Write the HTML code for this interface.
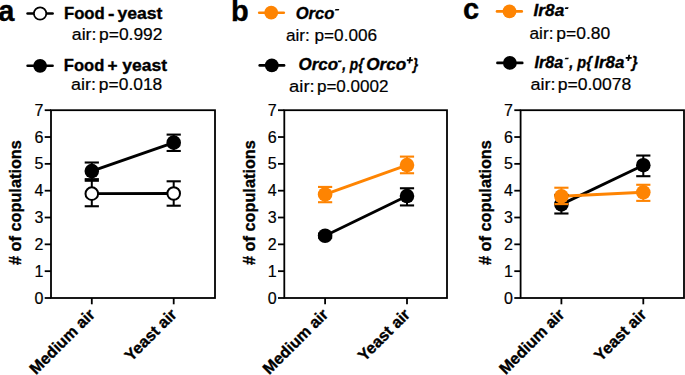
<!DOCTYPE html>
<html><head><meta charset="utf-8"><style>
html,body{margin:0;padding:0;background:#fff;}
svg{display:block}
text{font-family:"Liberation Sans",sans-serif;fill:#000;stroke:#000;stroke-width:0.35px}
.tk{font-size:16px;stroke-width:0.2px}
.xl{font-size:16px;font-weight:bold}
.yt{font-size:16px;font-weight:bold}
.pl{font-size:29px;font-weight:bold}
</style></head>
<body><svg width="685" height="375" viewBox="0 0 685 375">
<rect width="685" height="375" fill="#fff"/>
<rect x="51.0" y="110.2" width="164.0" height="187.8" fill="none" stroke="#000" stroke-width="1.8"/>
<line x1="44.7" y1="298.00" x2="51.0" y2="298.00" stroke="#000" stroke-width="1.8"/>
<text x="43.4" y="303.60" text-anchor="end" class="tk">0</text>
<line x1="44.7" y1="271.17" x2="51.0" y2="271.17" stroke="#000" stroke-width="1.8"/>
<text x="43.4" y="276.77" text-anchor="end" class="tk">1</text>
<line x1="44.7" y1="244.34" x2="51.0" y2="244.34" stroke="#000" stroke-width="1.8"/>
<text x="43.4" y="249.94" text-anchor="end" class="tk">2</text>
<line x1="44.7" y1="217.51" x2="51.0" y2="217.51" stroke="#000" stroke-width="1.8"/>
<text x="43.4" y="223.11" text-anchor="end" class="tk">3</text>
<line x1="44.7" y1="190.69" x2="51.0" y2="190.69" stroke="#000" stroke-width="1.8"/>
<text x="43.4" y="196.29" text-anchor="end" class="tk">4</text>
<line x1="44.7" y1="163.86" x2="51.0" y2="163.86" stroke="#000" stroke-width="1.8"/>
<text x="43.4" y="169.46" text-anchor="end" class="tk">5</text>
<line x1="44.7" y1="137.03" x2="51.0" y2="137.03" stroke="#000" stroke-width="1.8"/>
<text x="43.4" y="142.63" text-anchor="end" class="tk">6</text>
<line x1="44.7" y1="110.20" x2="51.0" y2="110.20" stroke="#000" stroke-width="1.8"/>
<text x="43.4" y="115.80" text-anchor="end" class="tk">7</text>
<line x1="91.80" y1="298.0" x2="91.80" y2="304.3" stroke="#000" stroke-width="1.8"/>
<line x1="173.70" y1="298.0" x2="173.70" y2="304.3" stroke="#000" stroke-width="1.8"/>
<text transform="translate(95.80,315.50) rotate(-45)" text-anchor="end" class="xl">Medium air</text>
<text transform="translate(177.70,315.50) rotate(-45)" text-anchor="end" class="xl">Yeast air</text>
<text transform="translate(21.20,202.60) rotate(-90)" text-anchor="middle" class="yt" textLength="125.0" lengthAdjust="spacingAndGlyphs"># of copulations</text>
<line x1="91.80" y1="193.64" x2="173.70" y2="193.50" stroke="#000" stroke-width="2.9"/>
<line x1="91.80" y1="171.10" x2="173.70" y2="142.66" stroke="#000" stroke-width="2.9"/>
<line x1="91.80" y1="206.25" x2="91.80" y2="180.76" stroke="#000" stroke-width="2"/>
<line x1="84.70" y1="206.25" x2="98.90" y2="206.25" stroke="#000" stroke-width="2.1"/>
<line x1="84.70" y1="180.76" x2="98.90" y2="180.76" stroke="#000" stroke-width="2.1"/>
<circle cx="91.80" cy="193.64" r="6.3" fill="#fff" stroke="#000" stroke-width="2.0"/>
<line x1="173.70" y1="205.71" x2="173.70" y2="181.30" stroke="#000" stroke-width="2"/>
<line x1="166.60" y1="205.71" x2="180.80" y2="205.71" stroke="#000" stroke-width="2.1"/>
<line x1="166.60" y1="181.30" x2="180.80" y2="181.30" stroke="#000" stroke-width="2.1"/>
<circle cx="173.70" cy="193.50" r="6.3" fill="#fff" stroke="#000" stroke-width="2.0"/>
<line x1="91.80" y1="179.15" x2="91.80" y2="162.52" stroke="#000" stroke-width="2"/>
<line x1="84.70" y1="179.15" x2="98.90" y2="179.15" stroke="#000" stroke-width="2.1"/>
<line x1="84.70" y1="162.52" x2="98.90" y2="162.52" stroke="#000" stroke-width="2.1"/>
<circle cx="91.80" cy="171.10" r="7.3" fill="#000"/>
<line x1="173.70" y1="150.98" x2="173.70" y2="134.61" stroke="#000" stroke-width="2"/>
<line x1="166.60" y1="150.98" x2="180.80" y2="150.98" stroke="#000" stroke-width="2.1"/>
<line x1="166.60" y1="134.61" x2="180.80" y2="134.61" stroke="#000" stroke-width="2.1"/>
<circle cx="173.70" cy="142.66" r="7.3" fill="#000"/>
<rect x="284.3" y="110.2" width="162.7" height="187.8" fill="none" stroke="#000" stroke-width="1.8"/>
<line x1="278.0" y1="298.00" x2="284.3" y2="298.00" stroke="#000" stroke-width="1.8"/>
<text x="276.7" y="303.60" text-anchor="end" class="tk">0</text>
<line x1="278.0" y1="271.17" x2="284.3" y2="271.17" stroke="#000" stroke-width="1.8"/>
<text x="276.7" y="276.77" text-anchor="end" class="tk">1</text>
<line x1="278.0" y1="244.34" x2="284.3" y2="244.34" stroke="#000" stroke-width="1.8"/>
<text x="276.7" y="249.94" text-anchor="end" class="tk">2</text>
<line x1="278.0" y1="217.51" x2="284.3" y2="217.51" stroke="#000" stroke-width="1.8"/>
<text x="276.7" y="223.11" text-anchor="end" class="tk">3</text>
<line x1="278.0" y1="190.69" x2="284.3" y2="190.69" stroke="#000" stroke-width="1.8"/>
<text x="276.7" y="196.29" text-anchor="end" class="tk">4</text>
<line x1="278.0" y1="163.86" x2="284.3" y2="163.86" stroke="#000" stroke-width="1.8"/>
<text x="276.7" y="169.46" text-anchor="end" class="tk">5</text>
<line x1="278.0" y1="137.03" x2="284.3" y2="137.03" stroke="#000" stroke-width="1.8"/>
<text x="276.7" y="142.63" text-anchor="end" class="tk">6</text>
<line x1="278.0" y1="110.20" x2="284.3" y2="110.20" stroke="#000" stroke-width="1.8"/>
<text x="276.7" y="115.80" text-anchor="end" class="tk">7</text>
<line x1="325.10" y1="298.0" x2="325.10" y2="304.3" stroke="#000" stroke-width="1.8"/>
<line x1="407.00" y1="298.0" x2="407.00" y2="304.3" stroke="#000" stroke-width="1.8"/>
<text transform="translate(329.10,315.50) rotate(-45)" text-anchor="end" class="xl">Medium air</text>
<text transform="translate(411.00,315.50) rotate(-45)" text-anchor="end" class="xl">Yeast air</text>
<text transform="translate(254.60,202.60) rotate(-90)" text-anchor="middle" class="yt" textLength="125.0" lengthAdjust="spacingAndGlyphs"># of copulations</text>
<line x1="325.10" y1="235.76" x2="407.00" y2="196.05" stroke="#000" stroke-width="2.9"/>
<line x1="325.10" y1="194.44" x2="407.00" y2="165.06" stroke="#FE8402" stroke-width="2.9"/>
<line x1="325.10" y1="237.64" x2="325.10" y2="233.61" stroke="#000" stroke-width="2"/>
<line x1="318.00" y1="237.64" x2="332.20" y2="237.64" stroke="#000" stroke-width="2.1"/>
<line x1="318.00" y1="233.61" x2="332.20" y2="233.61" stroke="#000" stroke-width="2.1"/>
<circle cx="325.10" cy="235.76" r="7.3" fill="#000"/>
<line x1="407.00" y1="205.44" x2="407.00" y2="188.27" stroke="#000" stroke-width="2"/>
<line x1="399.90" y1="205.44" x2="414.10" y2="205.44" stroke="#000" stroke-width="2.1"/>
<line x1="399.90" y1="188.27" x2="414.10" y2="188.27" stroke="#000" stroke-width="2.1"/>
<circle cx="407.00" cy="196.05" r="7.3" fill="#000"/>
<line x1="325.10" y1="202.22" x2="325.10" y2="186.93" stroke="#FE8402" stroke-width="2"/>
<line x1="318.00" y1="202.22" x2="332.20" y2="202.22" stroke="#FE8402" stroke-width="2.1"/>
<line x1="318.00" y1="186.93" x2="332.20" y2="186.93" stroke="#FE8402" stroke-width="2.1"/>
<circle cx="325.10" cy="194.44" r="7.3" fill="#FE8402"/>
<line x1="407.00" y1="173.25" x2="407.00" y2="156.61" stroke="#FE8402" stroke-width="2"/>
<line x1="399.90" y1="173.25" x2="414.10" y2="173.25" stroke="#FE8402" stroke-width="2.1"/>
<line x1="399.90" y1="156.61" x2="414.10" y2="156.61" stroke="#FE8402" stroke-width="2.1"/>
<circle cx="407.00" cy="165.06" r="7.3" fill="#FE8402"/>
<rect x="520.6" y="110.2" width="163.39999999999998" height="187.8" fill="none" stroke="#000" stroke-width="1.8"/>
<line x1="514.3000000000001" y1="298.00" x2="520.6" y2="298.00" stroke="#000" stroke-width="1.8"/>
<text x="513.0" y="303.60" text-anchor="end" class="tk">0</text>
<line x1="514.3000000000001" y1="271.17" x2="520.6" y2="271.17" stroke="#000" stroke-width="1.8"/>
<text x="513.0" y="276.77" text-anchor="end" class="tk">1</text>
<line x1="514.3000000000001" y1="244.34" x2="520.6" y2="244.34" stroke="#000" stroke-width="1.8"/>
<text x="513.0" y="249.94" text-anchor="end" class="tk">2</text>
<line x1="514.3000000000001" y1="217.51" x2="520.6" y2="217.51" stroke="#000" stroke-width="1.8"/>
<text x="513.0" y="223.11" text-anchor="end" class="tk">3</text>
<line x1="514.3000000000001" y1="190.69" x2="520.6" y2="190.69" stroke="#000" stroke-width="1.8"/>
<text x="513.0" y="196.29" text-anchor="end" class="tk">4</text>
<line x1="514.3000000000001" y1="163.86" x2="520.6" y2="163.86" stroke="#000" stroke-width="1.8"/>
<text x="513.0" y="169.46" text-anchor="end" class="tk">5</text>
<line x1="514.3000000000001" y1="137.03" x2="520.6" y2="137.03" stroke="#000" stroke-width="1.8"/>
<text x="513.0" y="142.63" text-anchor="end" class="tk">6</text>
<line x1="514.3000000000001" y1="110.20" x2="520.6" y2="110.20" stroke="#000" stroke-width="1.8"/>
<text x="513.0" y="115.80" text-anchor="end" class="tk">7</text>
<line x1="561.40" y1="298.0" x2="561.40" y2="304.3" stroke="#000" stroke-width="1.8"/>
<line x1="643.30" y1="298.0" x2="643.30" y2="304.3" stroke="#000" stroke-width="1.8"/>
<text transform="translate(565.40,315.50) rotate(-45)" text-anchor="end" class="xl">Medium air</text>
<text transform="translate(647.30,315.50) rotate(-45)" text-anchor="end" class="xl">Yeast air</text>
<text transform="translate(491.30,202.60) rotate(-90)" text-anchor="middle" class="yt" textLength="125.0" lengthAdjust="spacingAndGlyphs"># of copulations</text>
<line x1="561.40" y1="204.37" x2="643.30" y2="165.20" stroke="#000" stroke-width="2.9"/>
<line x1="561.40" y1="196.32" x2="643.30" y2="192.30" stroke="#FE8402" stroke-width="2.9"/>
<line x1="561.40" y1="213.49" x2="561.40" y2="194.98" stroke="#000" stroke-width="2"/>
<line x1="554.30" y1="213.49" x2="568.50" y2="213.49" stroke="#000" stroke-width="2.1"/>
<line x1="554.30" y1="194.98" x2="568.50" y2="194.98" stroke="#000" stroke-width="2.1"/>
<circle cx="561.40" cy="204.37" r="7.3" fill="#000"/>
<line x1="643.30" y1="176.20" x2="643.30" y2="155.54" stroke="#000" stroke-width="2"/>
<line x1="636.20" y1="176.20" x2="650.40" y2="176.20" stroke="#000" stroke-width="2.1"/>
<line x1="636.20" y1="155.54" x2="650.40" y2="155.54" stroke="#000" stroke-width="2.1"/>
<circle cx="643.30" cy="165.20" r="7.3" fill="#000"/>
<line x1="561.40" y1="204.10" x2="561.40" y2="187.73" stroke="#FE8402" stroke-width="2"/>
<line x1="554.30" y1="204.10" x2="568.50" y2="204.10" stroke="#FE8402" stroke-width="2.1"/>
<line x1="554.30" y1="187.73" x2="568.50" y2="187.73" stroke="#FE8402" stroke-width="2.1"/>
<circle cx="561.40" cy="196.32" r="7.3" fill="#FE8402"/>
<line x1="643.30" y1="200.88" x2="643.30" y2="184.78" stroke="#FE8402" stroke-width="2"/>
<line x1="636.20" y1="200.88" x2="650.40" y2="200.88" stroke="#FE8402" stroke-width="2.1"/>
<line x1="636.20" y1="184.78" x2="650.40" y2="184.78" stroke="#FE8402" stroke-width="2.1"/>
<circle cx="643.30" cy="192.30" r="7.3" fill="#FE8402"/>
<text x="-1.8" y="21" class="pl">a</text>
<text x="231" y="21" class="pl">b</text>
<text x="463" y="19.2" class="pl">c</text>
<line x1="27.599999999999998" y1="13.5" x2="52.599999999999994" y2="13.5" stroke="#000" stroke-width="2.6" stroke-linecap="round"/>
<circle cx="40.099999999999994" cy="13.5" r="6.2" fill="#fff" stroke="#000" stroke-width="1.8"/>
<text x="63.98" y="18.90" style="font-size:17px;font-weight:bold" textLength="40.82" lengthAdjust="spacingAndGlyphs">Food</text>
<text x="108.05" y="18.90" style="font-size:17px;font-weight:bold" textLength="6.43" lengthAdjust="spacingAndGlyphs">-</text>
<text x="117.46" y="18.90" style="font-size:17px;font-weight:bold" textLength="44.95" lengthAdjust="spacingAndGlyphs">yeast</text>
<text x="71.75" y="39.90" style="font-size:16.3px;stroke-width:0.2px" textLength="24.68" lengthAdjust="spacingAndGlyphs">air:</text>
<text x="99.08" y="39.90" style="font-size:16.3px;stroke-width:0.2px" textLength="63.40" lengthAdjust="spacingAndGlyphs">p=0.992</text>
<line x1="27.599999999999998" y1="65.8" x2="52.599999999999994" y2="65.8" stroke="#000" stroke-width="2.6" stroke-linecap="round"/>
<circle cx="40.099999999999994" cy="65.8" r="6.9" fill="#000"/>
<text x="63.79" y="71.30" style="font-size:17px;font-weight:bold" textLength="40.50" lengthAdjust="spacingAndGlyphs">Food</text>
<text x="107.58" y="71.30" style="font-size:17px;font-weight:bold" textLength="10.02" lengthAdjust="spacingAndGlyphs">+</text>
<text x="122.26" y="71.30" style="font-size:17px;font-weight:bold" textLength="44.75" lengthAdjust="spacingAndGlyphs">yeast</text>
<text x="71.14" y="89.80" style="font-size:16.3px;stroke-width:0.2px" textLength="24.90" lengthAdjust="spacingAndGlyphs">air:</text>
<text x="98.88" y="89.80" style="font-size:16.3px;stroke-width:0.2px" textLength="63.38" lengthAdjust="spacingAndGlyphs">p=0.018</text>
<line x1="259.2" y1="12.7" x2="283.8" y2="12.7" stroke="#FE8402" stroke-width="2.6" stroke-linecap="round"/>
<circle cx="271.2" cy="12.7" r="6.9" fill="#FE8402"/>
<text x="295.69" y="18.70" style="font-size:17px;font-weight:bold;font-style:italic" textLength="38.75" lengthAdjust="spacingAndGlyphs">Orco</text>
<polygon points="335.45,8.90 339.35,8.90 338.65,10.60 334.75,10.60" fill="#000"/>
<text x="285.97" y="40.70" style="font-size:16.3px;stroke-width:0.2px" textLength="91.08" lengthAdjust="spacingAndGlyphs">air: p=0.006</text>
<line x1="259.7" y1="65.4" x2="284.1" y2="65.4" stroke="#000" stroke-width="2.6" stroke-linecap="round"/>
<circle cx="271.8" cy="65.4" r="6.9" fill="#000"/>
<text x="298.57" y="70.30" style="font-size:17px;font-weight:bold;font-style:italic" textLength="39.57" lengthAdjust="spacingAndGlyphs">Orco</text>
<polygon points="338.35,60.55 341.85,60.55 341.15,62.25 337.65,62.25" fill="#000"/>
<text x="342.23" y="70.30" style="font-size:17px;font-weight:bold;font-style:italic" textLength="21.39" lengthAdjust="spacingAndGlyphs">, p{</text>
<text x="366.16" y="70.30" style="font-size:17px;font-weight:bold;font-style:italic" textLength="40.09" lengthAdjust="spacingAndGlyphs">Orco</text>
<rect x="406.80" y="59.30" width="6.0" height="1.8" fill="#000"/>
<polygon points="409.40,57.00 411.20,57.00 410.20,63.40 408.40,63.40" fill="#000"/>
<text x="413.11" y="70.30" style="font-size:17px;font-weight:bold;font-style:italic" textLength="5.18" lengthAdjust="spacingAndGlyphs">}</text>
<text x="289.12" y="92.30" style="font-size:16.3px;stroke-width:0.2px" textLength="25.56" lengthAdjust="spacingAndGlyphs">air:</text>
<text x="316.90" y="92.30" style="font-size:16.3px;stroke-width:0.2px" textLength="71.66" lengthAdjust="spacingAndGlyphs">p=0.0002</text>
<line x1="497.0" y1="11.4" x2="521.8" y2="11.4" stroke="#FE8402" stroke-width="2.6" stroke-linecap="round"/>
<circle cx="509.5" cy="11.4" r="6.9" fill="#FE8402"/>
<text x="533.60" y="16.40" style="font-size:17px;font-weight:bold;font-style:italic" textLength="30.61" lengthAdjust="spacingAndGlyphs">Ir8a</text>
<polygon points="565.45,7.25 568.65,7.25 567.95,8.95 564.75,8.95" fill="#000"/>
<text x="529.47" y="39.00" style="font-size:16.3px;stroke-width:0.2px" textLength="24.01" lengthAdjust="spacingAndGlyphs">air:</text>
<text x="556.37" y="39.00" style="font-size:16.3px;stroke-width:0.2px" textLength="53.91" lengthAdjust="spacingAndGlyphs">p=0.80</text>
<line x1="497.4" y1="62.9" x2="522.3" y2="62.9" stroke="#000" stroke-width="2.6" stroke-linecap="round"/>
<circle cx="509.9" cy="62.9" r="6.9" fill="#000"/>
<text x="534.51" y="68.00" style="font-size:17px;font-weight:bold;font-style:italic" textLength="28.86" lengthAdjust="spacingAndGlyphs">Ir8a</text>
<polygon points="565.35,57.65 568.85,57.65 568.15,59.35 564.65,59.35" fill="#000"/>
<text x="569.24" y="68.00" style="font-size:17px;font-weight:bold;font-style:italic" textLength="22.63" lengthAdjust="spacingAndGlyphs">, p{</text>
<text x="594.30" y="68.00" style="font-size:17px;font-weight:bold;font-style:italic" textLength="29.99" lengthAdjust="spacingAndGlyphs">Ir8a</text>
<rect x="625.70" y="57.00" width="6.0" height="1.8" fill="#000"/>
<polygon points="628.30,54.85 630.10,54.85 629.10,60.95 627.30,60.95" fill="#000"/>
<text x="631.76" y="68.00" style="font-size:17px;font-weight:bold;font-style:italic" textLength="5.96" lengthAdjust="spacingAndGlyphs">}</text>
<text x="530.44" y="89.70" style="font-size:16.3px;stroke-width:0.2px" textLength="25.01" lengthAdjust="spacingAndGlyphs">air:</text>
<text x="557.67" y="89.70" style="font-size:16.3px;stroke-width:0.2px" textLength="73.69" lengthAdjust="spacingAndGlyphs">p=0.0078</text>
</svg></body></html>
